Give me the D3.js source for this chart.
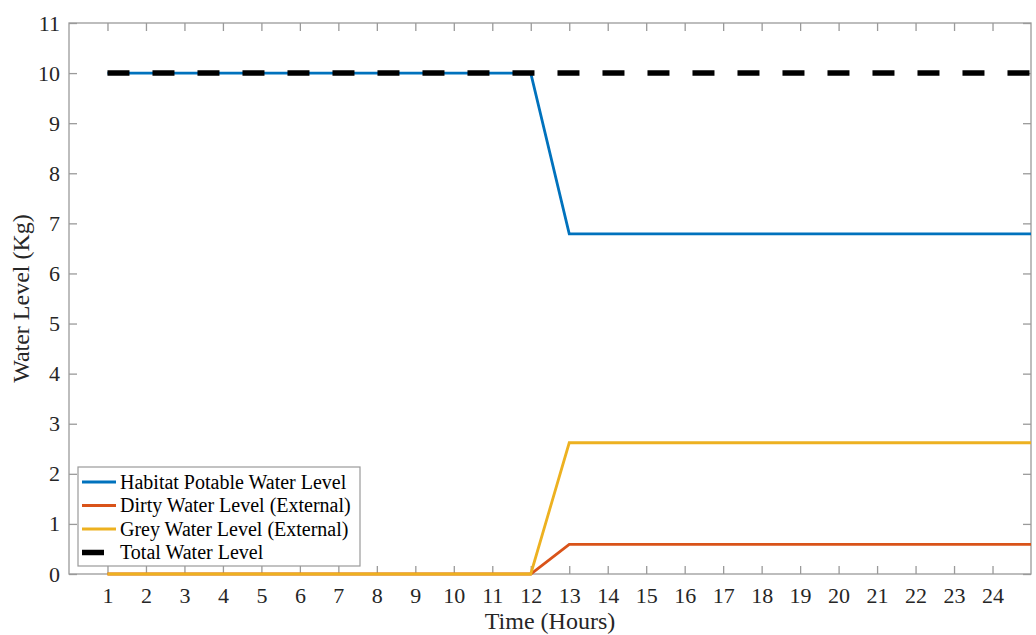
<!DOCTYPE html>
<html>
<head>
<meta charset="utf-8">
<script src="https://cdn.jsdelivr.net/npm/d3@7"></script>
<style>
  body { margin: 0; background: #fff; }
  text { font-family: "Liberation Serif", "Times New Roman", serif; }
</style>
</head>
<body>
<div id="chart"></div>
<script>
// data
const hours = d3.range(1, 26);
const potable = [10, 10, 10, 10, 10, 10, 10, 10, 10, 10, 10, 10,
  6.79, 6.79, 6.79, 6.79, 6.79, 6.79, 6.79, 6.79, 6.79, 6.79, 6.79, 6.79, 6.79];
const dirty = [0, 0, 0, 0, 0, 0, 0, 0, 0, 0, 0, 0,
  0.59, 0.59, 0.59, 0.59, 0.59, 0.59, 0.59, 0.59, 0.59, 0.59, 0.59, 0.59, 0.59];
const grey = [0, 0, 0, 0, 0, 0, 0, 0, 0, 0, 0, 0,
  2.62, 2.62, 2.62, 2.62, 2.62, 2.62, 2.62, 2.62, 2.62, 2.62, 2.62, 2.62, 2.62];
const total = [10, 10, 10, 10, 10, 10, 10, 10, 10, 10, 10, 10,
  10, 10, 10, 10, 10, 10, 10, 10, 10, 10, 10, 10, 10];
const xTicks = d3.range(1, 25);
const yTicks = d3.range(0, 12);

const series = [
  { name: "Habitat Potable Water Level", values: potable, color: "#0072BD" },
  { name: "Dirty Water Level (External)", values: dirty, color: "#D95319" },
  { name: "Grey Water Level (External)", values: grey, color: "#EDB120" },
  { name: "Total Water Level", values: total, color: "#000000", dash: true }
];

const width = 1036, height = 635;
const margin = { top: 23, right: 5, bottom: 61, left: 69 };

const svg = d3.select("#chart").append("svg")
  .attr("width", width)
  .attr("height", height);

const x = d3.scaleLinear().domain([0, 25]).range([margin.left, width - margin.right]);
const y = d3.scaleLinear().domain([0, 11]).range([height - margin.bottom, margin.top]);

const axisColor = "#9a9a9a";
const textColor = "#262626";

// box
svg.append("rect")
  .attr("x", x(0)).attr("y", y(11))
  .attr("width", x(25) - x(0)).attr("height", y(0) - y(11))
  .attr("fill", "none").attr("stroke", axisColor).attr("stroke-width", 1.3);

// ticks (inward, mirrored)
const tk = 8;
function styleAxis(g) {
  g.select(".domain").remove();
  g.selectAll(".tick line").attr("stroke", axisColor).attr("stroke-width", 1.3);
  g.selectAll(".tick text").attr("fill", textColor).attr("font-size", 22);
}
svg.append("g")
  .attr("transform", `translate(0,${y(0)})`)
  .call(d3.axisBottom(x).tickValues(xTicks).tickSizeInner(-tk).tickSizeOuter(0).tickPadding(13))
  .call(styleAxis);
svg.append("g")
  .attr("transform", `translate(0,${y(11)})`)
  .call(d3.axisTop(x).tickValues(xTicks).tickSizeInner(-tk).tickSizeOuter(0).tickFormat(""))
  .call(styleAxis);
svg.append("g")
  .attr("transform", `translate(${x(0)},0)`)
  .call(d3.axisLeft(y).tickValues(yTicks).tickSizeInner(-tk).tickSizeOuter(0).tickPadding(9))
  .call(styleAxis);
svg.append("g")
  .attr("transform", `translate(${x(25)},0)`)
  .call(d3.axisRight(y).tickValues(yTicks).tickSizeInner(-tk).tickSizeOuter(0).tickFormat(""))
  .call(styleAxis);

// axis titles
svg.append("text")
  .attr("x", (x(0) + x(25)) / 2).attr("y", 629)
  .attr("text-anchor", "middle").attr("font-size", 24).attr("fill", textColor)
  .text("Time (Hours)");
svg.append("text")
  .attr("transform", `translate(29,${(y(0) + y(11)) / 2}) rotate(-90)`)
  .attr("text-anchor", "middle").attr("font-size", 24).attr("fill", textColor)
  .text("Water Level (Kg)");

// lines
const line = d3.line().x((d, i) => x(hours[i])).y(d => y(d));
const drawOrder = [1, 2, 0, 3];
drawOrder.forEach(k => {
  const s = series[k];
  svg.append("path")
    .datum(s.values)
    .attr("d", line)
    .attr("fill", "none")
    .attr("stroke", s.color)
    .attr("stroke-width", s.dash ? 5.5 : 2.8)
    .attr("stroke-dasharray", s.dash ? "22,23" : null)
    .attr("stroke-linejoin", "miter");
});

// legend
const lg = svg.append("g").attr("transform", "translate(78,467)");
lg.append("rect")
  .attr("width", 282).attr("height", 99)
  .attr("fill", "#fff").attr("stroke", axisColor).attr("stroke-width", 1.2);
series.forEach((s, i) => {
  const yy = 15 + i * 23.5;
  lg.append("line")
    .attr("x1", 4).attr("x2", 38).attr("y1", yy).attr("y2", yy)
    .attr("stroke", s.color)
    .attr("stroke-width", s.dash ? 5.5 : 2.8)
    .attr("stroke-dasharray", s.dash ? "22,23" : null);
  lg.append("text")
    .attr("x", 42).attr("y", yy + 6.5)
    .attr("font-size", 20).attr("fill", "#000")
    .text(s.name);
});
</script>
</body>
</html>
